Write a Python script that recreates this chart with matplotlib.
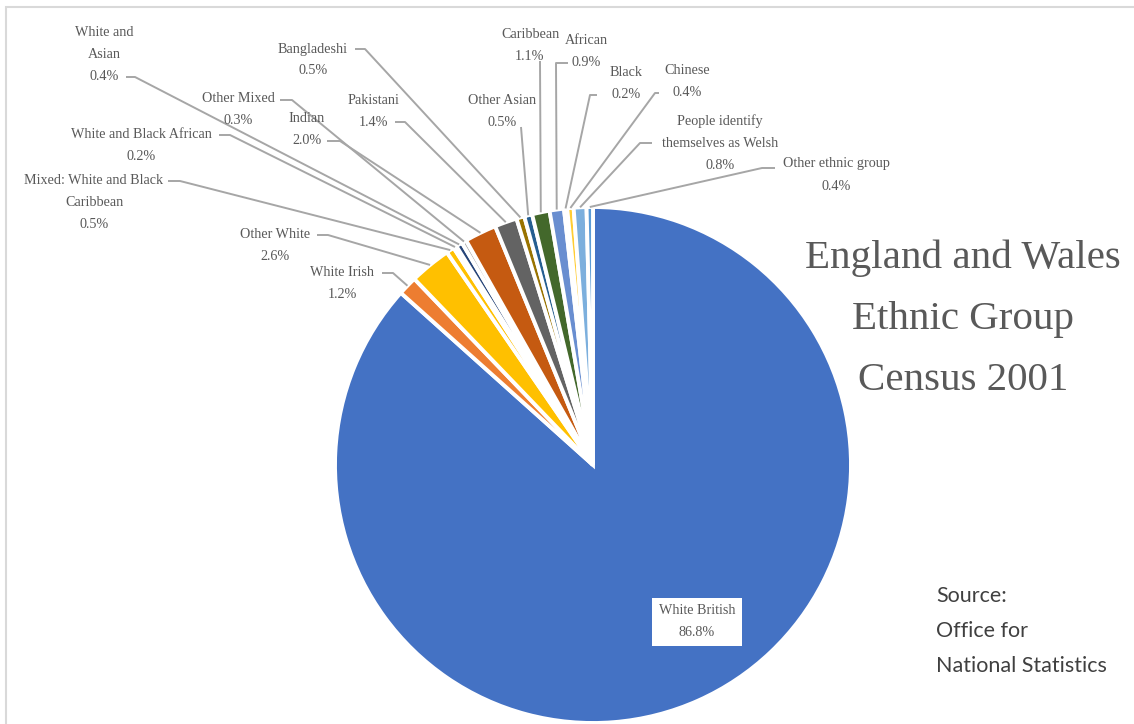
import matplotlib.pyplot as plt
import numpy as np
from matplotlib.patches import Rectangle

W, H = 1134, 724

# Ethnic group shares, clockwise from 12 o'clock
groups = ["White British", "White Irish", "Other White",
          "Mixed: White and Black\nCaribbean", "White and Black African",
          "White and\nAsian", "Other Mixed", "Indian", "Pakistani",
          "Bangladeshi", "Other Asian", "Caribbean", "African", "Black",
          "Chinese", "People identify\nthemselves as Welsh",
          "Other ethnic group"]
shares = [86.8, 1.2, 2.6, 0.5, 0.2, 0.4, 0.3, 2.0, 1.4, 0.5, 0.5,
          1.1, 0.9, 0.2, 0.4, 0.8, 0.4]
colors = ["#4472C4", "#ED7D31", "#FFC000", "#FFC000", "#70AD47",
          "#264478", "#A5A5A5", "#C55A11", "#636363", "#997300",
          "#255E91", "#43682B", "#698ED0", "#B7B7B7", "#FFCD33",
          "#7CAFDD", "#5B9BD5"]

# label block centres and leader stubs (x0, x1, y), pixels from top-left
label_xy = [(697, 622), (342, 284), (275, 246), (94, 203), (141, 146),
            (104, 55), (238, 110), (307, 130), (374, 111), (313, 60),
            (502, 111), (530, 46), (586, 52), (626, 84), (687, 82),
            (720, 143), (836, 175)]
stubs = [None, (382, 393, 273), (317, 328, 235), (168, 180, 181),
         (219, 230, 135), (126, 135, 77), (280, 292, 100),
         (327, 340, 141), (395, 405, 122), (355, 365, 49),
         (521, 521, 127), (540, 540, 61), (568, 556, 63), (597, 590, 95),
         (659, 655, 93), (652, 640, 143), (775, 762, 168)]


def px(x, y):
    return x, H - y


fig = plt.figure(figsize=(W / 100, H / 100), dpi=100)
ax = fig.add_axes([0, 0, 1, 1])

cx, cy = px(593, 465)
R = 258
wedges, _ = ax.pie(shares, colors=colors, startangle=90, counterclock=False,
                   center=(cx, cy), radius=R,
                   wedgeprops=dict(edgecolor="white", linewidth=2.8))
ax.set_xlim(0, W)
ax.set_ylim(0, H)
ax.set_aspect("equal")
ax.axis("off")

# chart border
ax.add_patch(Rectangle(px(6, 740), W, 733, fill=False,
                       edgecolor="#d9d9d9", linewidth=1.5))

serif = ["Liberation Serif", "DejaVu Serif"]
grey = "#595959"

for i, (w, name, val) in enumerate(zip(wedges, groups, shares)):
    tx, ty = px(*label_xy[i])
    txt = f"{name}\n{val:.1f}%"
    if stubs[i] is None:
        ax.text(tx, ty, txt, ha="center", va="center", fontsize=10.2,
                family=serif, color=grey, linespacing=1.9,
                bbox=dict(boxstyle="square,pad=0.45", fc="white", ec="none"))
        continue
    ax.text(tx, ty, txt, ha="center", va="center", fontsize=10.2,
            family=serif, color=grey, linespacing=1.9)
    mid = np.deg2rad((w.theta1 + w.theta2) / 2)
    ex, ey = cx + R * np.cos(mid), cy + R * np.sin(mid)
    x0, x1, sy = stubs[i]
    _, sy = px(0, sy)
    ax.plot([x0, x1, ex], [sy, sy, ey], color="#a6a6a6", lw=1.4,
            solid_capstyle="butt")

ax.text(*px(963, 319), "England and Wales\nEthnic Group\nCensus 2001",
        ha="center", va="center", fontsize=29.5, family=serif,
        color=grey, linespacing=1.85)

ax.text(*px(936, 631), "Source:\nOffice for\nNational Statistics",
        ha="left", va="center", fontsize=15.5, family=["Lato", "DejaVu Sans"],
        color="#404040", linespacing=1.95)

fig.savefig("out.png", dpi=100)
